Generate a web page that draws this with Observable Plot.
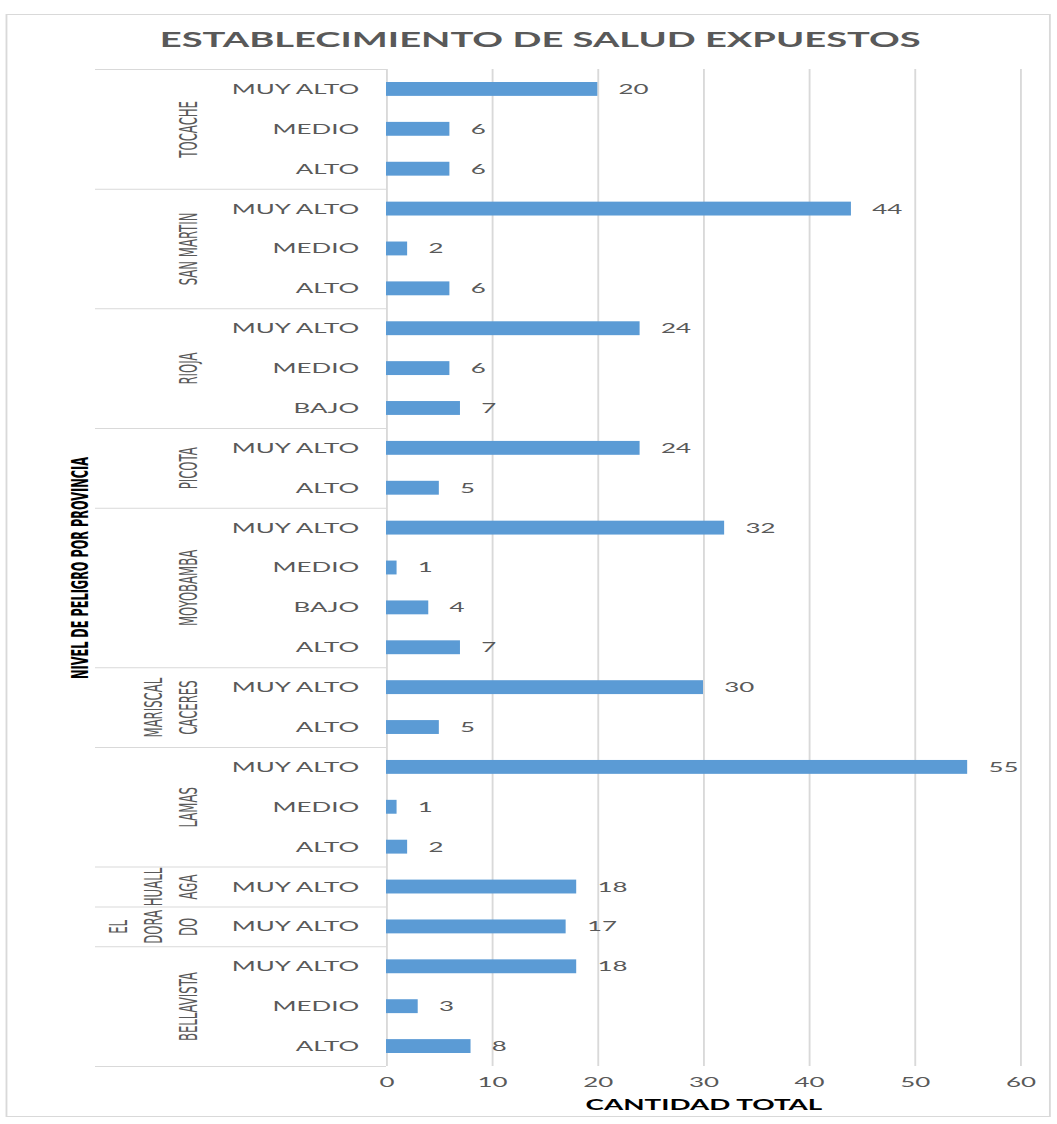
<!DOCTYPE html>
<html><head><meta charset="utf-8">
<script src="https://cdn.jsdelivr.net/npm/d3@7"></script>
<script src="https://cdn.jsdelivr.net/npm/@observablehq/plot@0.6"></script>
<style>
html,body{margin:0;padding:0;background:#fff;}
#wrap{position:absolute;left:0;top:0;width:571px;height:1124px;transform:scaleX(1.85);transform-origin:0 0;font-family:Lato,sans-serif;}
#frame{position:absolute;left:2.7px;top:14px;width:565px;height:1103px;border:1px solid #d9d9d9;box-sizing:border-box;}
#title{position:absolute;top:27px;left:292px;transform:translateX(-50%);white-space:nowrap;font-weight:bold;font-size:20.6px;font-family:Lato,sans-serif;color:#595959;}
#chart{position:absolute;left:0;top:60px;}
</style></head><body>
<div id="wrap"><div id="frame"></div><div id="title">ESTABLECIMIENTO DE SALUD EXPUESTOS</div><div id="chart"></div></div>
<script>
// ---- data ----
const provinces = ["TOCACHE","SAN MARTIN","RIOJA","PICOTA","MOYOBAMBA","MARISCAL CACERES","LAMAS","HUALLAGA","EL DORADO","BELLAVISTA"];
const provinceLabels = ["TOCACHE","SAN MARTIN","RIOJA","PICOTA","MOYOBAMBA","MARISCAL\nCACERES","LAMAS","HUALL\nAGA","EL\nDORA\nDO","BELLAVISTA"];
const provinceLevels = [
  ["MUY ALTO","MEDIO","ALTO"],
  ["MUY ALTO","MEDIO","ALTO"],
  ["MUY ALTO","MEDIO","BAJO"],
  ["MUY ALTO","ALTO"],
  ["MUY ALTO","MEDIO","BAJO","ALTO"],
  ["MUY ALTO","ALTO"],
  ["MUY ALTO","MEDIO","ALTO"],
  ["MUY ALTO"],
  ["MUY ALTO"],
  ["MUY ALTO","MEDIO","ALTO"]
];
const provinceValues = [
  [20,6,6],
  [44,2,6],
  [24,6,7],
  [24,5],
  [32,1,4,7],
  [30,5],
  [55,1,2],
  [18],
  [17],
  [18,3,8]
];
const xTicks = [0,10,20,30,40,50,60];
const xTitle = "CANTIDAD TOTAL";
const yTitle = "NIVEL DE PELIGRO POR PROVINCIA";

// ---- build table ----
const rows = [];
const groups = [];
provinces.forEach((p, gi) => {
  const start = rows.length;
  provinceLevels[gi].forEach((lvl, j) => {
    rows.push({i: rows.length, province: p, level: lvl, value: provinceValues[gi][j]});
  });
  const end = rows.length - 1;
  groups.push({province: p, label: provinceLabels[gi], start, end, mid: (start + end) / 2});
});
const n = rows.length;
const boundaries = [-0.5, ...groups.map(g => g.end + 0.5)];

const S = 1.85;
const W = 571;
const H = 1060;
const mL = 386 / S, mR = W - 1020 / S, mT = 9, mB = 54;
const narrow = "'Liberation Sans Narrow','DejaVu Sans Condensed',sans-serif";

const chart = Plot.plot({
  width: W, height: H,
  marginLeft: mL, marginRight: mR, marginTop: mT, marginBottom: mB,
  style: {fontFamily: "Lato, sans-serif", fontSize: "14px", color: "#595959", background: "transparent", overflow: "visible"},
  x: {domain: [0, 60], ticks: xTicks},
  y: {domain: [n - 0.5, -0.5]},
  marks: [
    Plot.gridX(xTicks, {stroke: "#d9d9d9", strokeOpacity: 1, strokeWidth: 1}),
    Plot.ruleY(boundaries, {y: d => d, x2: 0, insetLeft: -(386 - 95) / S, stroke: "#d9d9d9", strokeWidth: 1}),
    Plot.rect(rows, {x1: 0, x2: "value", y1: d => d.i - 0.5, y2: d => d.i + 0.5, insetTop: 13, insetBottom: 13, fill: "#5b9bd5"}),
    Plot.text(rows, {x: "value", y: "i", text: d => String(d.value), textAnchor: "start", dx: 11, fill: "#595959", fontSize: 14}),
    Plot.axisY({ticks: rows.map(d => d.i), tickFormat: i => rows[i].level, tickSize: 0, tickPadding: 15, label: null, fontSize: 14}),
    Plot.axisX({ticks: xTicks, tickSize: 0, tickPadding: 11, label: null, fontSize: 14}),
    Plot.text(groups, {y: "mid", text: "label", frameAnchor: "left", textAnchor: "middle", dx: 106 - 386 / S, rotate: -90, lineAnchor: "bottom", lineHeight: 1.45, fontSize: 13, fontFamily: narrow, fill: "#595959"}),
    Plot.text([yTitle], {text: d => d, frameAnchor: "left", textAnchor: "middle", dx: (80 - 386) / S, rotate: -90, fontWeight: "bold", fontSize: 12.6, fontFamily: narrow, fill: "#000"}),
    Plot.text([xTitle], {text: d => d, frameAnchor: "bottom", dy: 43, fontWeight: "bold", fontSize: 15, fill: "#000"})
  ]
});
document.getElementById("chart").appendChild(chart);
</script>
</body></html>
